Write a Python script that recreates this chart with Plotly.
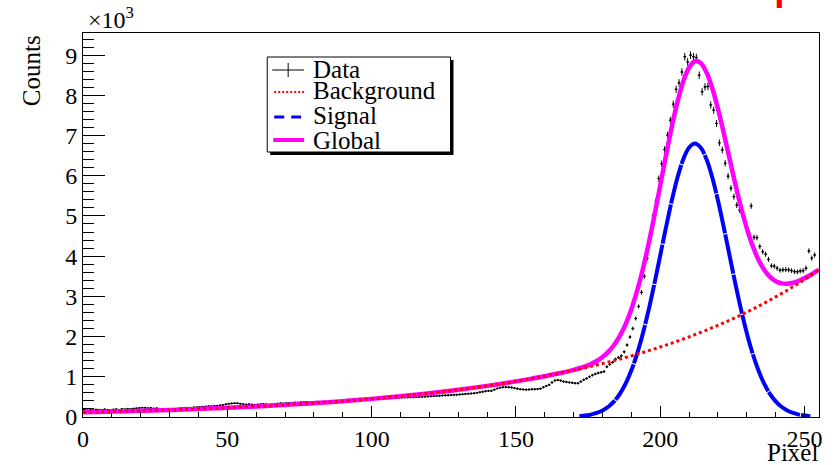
import numpy as np
import plotly.graph_objects as go

# ---------------- data ----------------
# Histogram of counts per pixel (unit bins, centres at i + 0.5)
pixel_counts = [
    180, 165, 175, 170, 185, 178, 172, 190, 182, 176,
    188, 195, 183, 200, 192, 205, 198, 210, 215, 225,
    232, 228, 220, 225, 212, 218, 205, 198, 190, 185,
    188, 195, 205, 215, 222, 228, 232, 230, 240, 245,
    250, 258, 262, 270, 268, 275, 280, 290, 300, 315,
    330, 338, 342, 340, 332, 320, 312, 318, 310, 305,
    312, 318, 322, 315, 308, 318, 325, 335, 342, 338,
    345, 350, 355, 362, 358, 365, 370, 372, 368, 360,
    352, 345, 350, 355, 362, 366, 372, 378, 384, 388,
    392, 396, 400, 405, 410, 414, 420, 426, 430, 434,
    440, 444, 450, 455, 460, 463, 468, 472, 476, 480,
    484, 486, 488, 490, 492, 496, 500, 503, 506, 510,
    515, 521, 525, 529, 534, 538, 541, 545, 549, 555,
    560, 566, 573, 579, 585, 590, 600, 615, 628, 642,
    650, 652, 680, 710, 730, 742, 745, 740, 735, 720,
    705, 692, 685, 680, 682, 688, 690, 695, 705, 740,
    770, 800, 860, 910, 920, 905, 880, 870, 860, 850,
    840, 838, 880, 925, 960, 1000, 1040, 1070, 1095, 1110,
    1130, 1250, 1310, 1360, 1440, 1480, 1520, 1620, 1790, 1990,
    2200, 2450, 2750, 3100, 3500, 3950, 4450, 5000, 5370, 5930,
    6300, 6650, 7010, 7380, 7780, 8150, 8310, 8580, 8960, 8830,
    9000, 8960, 8940, 8500, 8090, 8210, 8220, 7760, 7630, 7300,
    6820, 6640, 6310, 5990, 5690, 5480, 5270, 5150, 5000, 4820,
    4630, 5250, 4470, 4460, 4240, 4110, 4050, 3920, 3760, 3750,
    3700, 3650, 3660, 3665, 3660, 3640, 3615, 3610, 3630, 3640,
    3700, 4130, 3950, 4030,
]
bin_centres = np.arange(len(pixel_counts)) + 0.5

# Fit curves, sampled along the pixel axis
fit_x = list(range(0, 171, 5)) + list(range(172, 255, 2)) + [255]
background = [
    117, 125, 134, 143, 153, 164, 175, 188, 201, 215,
    230, 246, 263, 281, 301, 322, 345, 369, 394, 422,
    451, 483, 517, 553, 591, 632, 677, 724, 774, 828,
    886, 948, 1014, 1085, 1161,
    1193, 1225, 1259, 1293, 1329, 1365, 1403, 1441, 1480, 1521,
    1563, 1605, 1649, 1694, 1741, 1788, 1837, 1888, 1939, 1992,
    2047, 2103, 2160, 2220, 2280, 2343, 2407, 2473, 2540, 2610,
    2681, 2755, 2830, 2908, 2987, 3069, 3153, 3239, 3328, 3419,
    3513, 3609,
    3657,
]
global_fit = [
    117, 125, 134, 143, 153, 164, 175, 188, 201, 215,
    230, 246, 263, 281, 301, 322, 345, 369, 394, 422,
    451, 483, 517, 553, 591, 632, 677, 724, 774, 828,
    886, 948, 1014, 1087, 1172,
    1213, 1260, 1319, 1393, 1490, 1619, 1791, 2017, 2310, 2682,
    3140, 3688, 4319, 5018, 5760, 6508, 7220, 7850, 8353, 8693,
    8847, 8804, 8574, 8182, 7663, 7063, 6426, 5797, 5210, 4693,
    4259, 3916, 3660, 3483, 3375, 3323, 3315, 3339, 3388, 3454,
    3532, 3620,
    3665,
]
signal_x = list(range(172, 253, 2))
signal = [
    20, 35, 60, 100, 162, 254, 388, 576, 829, 1161,
    1578, 2083, 2670, 3324, 4019, 4720, 5383, 5962, 6414, 6701,
    6800,
    6701, 6414, 5962, 5383, 4720, 4019, 3324, 2670, 2083, 1578,
    1161, 829, 576, 388, 254, 162, 100, 60, 35, 20,
]

y_tick_vals = [0, 1000, 2000, 3000, 4000, 5000, 6000, 7000, 8000, 9000]
y_tick_text = ["0", "1", "2", "3", "4", "5", "6", "7", "8", "9"]

legend_names = ["Data", "Background", "Signal", "Global"]

# ---------------- figure ----------------
W, H = 835, 465
L, R, T, B = 83, 822, 33, 417
SERIF = "Liberation Serif"


def px_x(px):
    return (px - L) / (R - L)


def px_y(py):
    return (B - py) / (B - T)


fig = go.Figure()

fig.add_trace(go.Scatter(
    x=bin_centres, y=pixel_counts, mode="markers", name="Data",
    marker=dict(color="black", size=2),
    error_y=dict(type="sqrt", color="black", thickness=1, width=0),
    error_x=dict(type="constant", value=0.5, color="black", thickness=1, width=0),
    showlegend=False,
))
fig.add_trace(go.Scatter(
    x=fit_x, y=global_fit, mode="lines", name="Global",
    line=dict(color="#ff00ff", width=4.5, shape="spline"),
    showlegend=False,
))
fig.add_trace(go.Scatter(
    x=signal_x, y=signal, mode="lines", name="Signal",
    line=dict(color="#0000ff", width=4, shape="spline", dash="40px,1px"),
    showlegend=False,
))
fig.add_trace(go.Scatter(
    x=fit_x, y=background, mode="lines", name="Background",
    line=dict(color="#ff0000", width=3, shape="spline", dash="dot"),
    showlegend=False,
))

axis_common = dict(
    showline=True, linecolor="black", linewidth=1, mirror=True,
    ticks="inside", tickcolor="black", tickwidth=1,
    showgrid=False, zeroline=False,
    tickfont=dict(family=SERIF, size=24, color="black"),
)

fig.update_xaxes(
    range=[0, 255], tick0=0, dtick=50, ticklen=11,
    minor=dict(dtick=10, ticklen=5, ticks="inside", tickcolor="black", showgrid=False),
    **axis_common,
)
fig.update_yaxes(
    range=[0, 9550], tickmode="array", tickvals=y_tick_vals, ticktext=y_tick_text,
    ticklen=22,
    minor=dict(tick0=0, dtick=200, ticklen=11, ticks="inside", tickcolor="black", showgrid=False),
    **axis_common,
)

# legend box with drop shadow
shapes = [
    dict(type="rect", xref="paper", yref="paper",
         x0=px_x(271), x1=px_x(455), y0=px_y(60), y1=px_y(155),
         fillcolor="black", line=dict(width=0), layer="above"),
    dict(type="rect", xref="paper", yref="paper",
         x0=px_x(268), x1=px_x(452), y0=px_y(57), y1=px_y(152),
         fillcolor="white", line=dict(color="black", width=1), layer="above"),
    # Data marker: cross
    dict(type="line", xref="paper", yref="paper",
         x0=px_x(273), x1=px_x(305), y0=px_y(70), y1=px_y(70),
         line=dict(color="black", width=1), layer="above"),
    dict(type="line", xref="paper", yref="paper",
         x0=px_x(289), x1=px_x(289), y0=px_y(63), y1=px_y(77),
         line=dict(color="black", width=1), layer="above"),
    # Background
    dict(type="line", xref="paper", yref="paper",
         x0=px_x(275), x1=px_x(305), y0=px_y(92), y1=px_y(92),
         line=dict(color="#ff0000", width=2, dash="2px,2px"), layer="above"),
    # Signal
    dict(type="line", xref="paper", yref="paper",
         x0=px_x(275), x1=px_x(302), y0=px_y(117), y1=px_y(117),
         line=dict(color="#0000ff", width=3, dash="10px,7px"), layer="above"),
    # Global
    dict(type="line", xref="paper", yref="paper",
         x0=px_x(274), x1=px_x(305), y0=px_y(140), y1=px_y(140),
         line=dict(color="#ff00ff", width=4), layer="above"),
]

annotations = []
for name, cy in zip(legend_names, [69, 90, 115.5, 140.5]):
    annotations.append(dict(
        text=name, xref="paper", yref="paper", x=px_x(312), y=px_y(cy),
        xanchor="left", yanchor="middle", showarrow=False,
        font=dict(family=SERIF, size=25, color="black"),
    ))

annotations += [
    dict(text="Counts", xref="paper", yref="paper", x=px_x(31), y=px_y(71),
         textangle=-90, xanchor="center", yanchor="middle", showarrow=False,
         font=dict(family=SERIF, size=25, color="black")),
    dict(text="Pixel", xref="paper", yref="paper", x=px_x(823), y=px_y(452),
         xanchor="right", yanchor="middle", showarrow=False,
         font=dict(family=SERIF, size=25, color="black")),
    dict(text="×10<sup>3</sup>", xref="paper", yref="paper", x=px_x(86), y=px_y(18),
         xanchor="left", yanchor="middle", showarrow=False,
         font=dict(family=SERIF, size=24, color="black")),
    dict(text="<b>Fit of Pixel distribution: Gaussian + exp</b>", xref="paper", yref="paper",
         x=px_x(450), y=px_y(10), xanchor="center", yanchor="bottom", showarrow=False,
         font=dict(family="Liberation Sans", size=37, color="#ff0000")),
]

fig.update_layout(
    width=W, height=H,
    margin=dict(l=L, r=W - R, t=T, b=H - B, pad=0),
    paper_bgcolor="white", plot_bgcolor="white",
    showlegend=False,
    shapes=shapes, annotations=annotations,
)

fig.write_html("out.html")
